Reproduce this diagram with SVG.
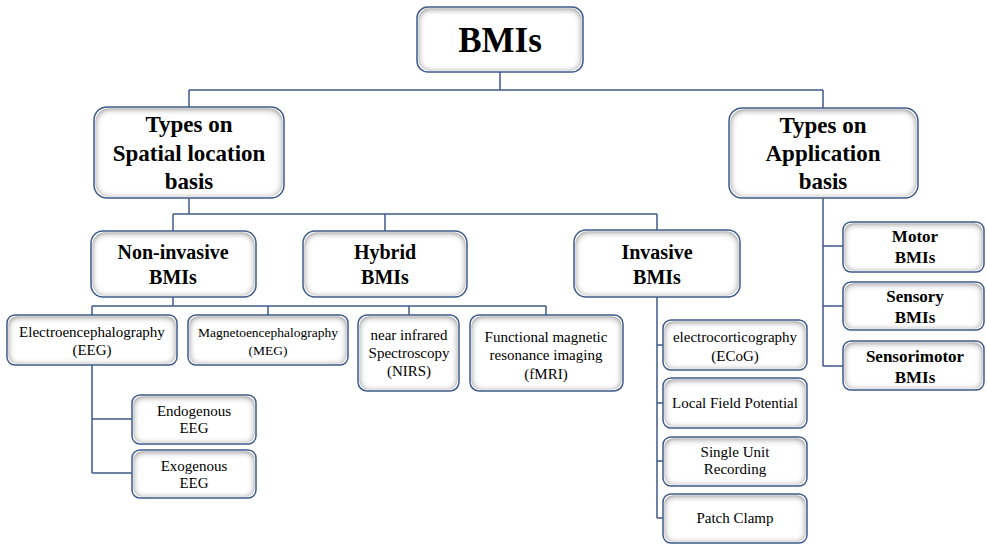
<svg xmlns="http://www.w3.org/2000/svg" width="987" height="546" viewBox="0 0 987 546">
<defs>
<filter id="inner" x="-0.15" y="-0.3" width="1.3" height="1.6">
  <feMorphology in="SourceAlpha" operator="erode" radius="1.5" result="inside"/>
  <feFlood flood-color="#5e5e5e" result="c"/>
  <feComposite in="c" in2="inside" operator="out" result="outside"/>
  <feGaussianBlur in="outside" stdDeviation="3"/>
  <feOffset dy="1.2" result="b"/>
  <feComposite in="b" in2="inside" operator="in" result="shadow"/>
  <feMerge><feMergeNode in="SourceGraphic"/><feMergeNode in="shadow"/></feMerge>
</filter>
</defs>
<style>
.box{fill:#ffffff;stroke:#3f5a8a;stroke-width:1.5;filter:url(#inner)}
.con{fill:none;stroke:#3f5a8a;stroke-width:1.5}
text{font-family:'Liberation Serif','DejaVu Serif',serif;fill:#000;text-anchor:middle}
.b{font-weight:bold}
.t0{font-size:35px}
.t1{font-size:23px}
.t2{font-size:20px}
.t3{font-size:17px}
.t4{font-size:15px}
.t5{font-size:13.5px}
</style>
<rect width="987" height="546" fill="#ffffff"/>
<g id="connectors">
  <path class="con" d="M500 72V90M189 90H823M189 90V107M823 90V108"/>
  <path class="con" d="M189 198V214M173 214H657M173 214V231M385 214V231M657 214V230"/>
  <path class="con" d="M173 297V306M92 306H546M92 306V315M268 306V315M409 306V315M546 306V315"/>
  <path class="con" d="M92 365V473M92 419H132M92 473H132"/>
  <path class="con" d="M657 297V518M657 345H663M657 403H663M657 461H663M657 518H663"/>
  <path class="con" d="M823 198V366M823 246H843M823 306H843M823 366H843"/>
</g>
<g font-family="Liberation Serif, DejaVu Serif, serif">
<g id="bmis">
  <rect class="box" x="417" y="7" width="166" height="65" rx="11"/>
  <text class="b t0" x="500" y="52">BMIs</text>
</g>
<g id="spatial">
  <rect class="box" x="94" y="107" width="190" height="91" rx="13"/>
  <text class="b t1" x="189" y="132">Types on</text>
  <text class="b t1" x="189" y="161">Spatial location</text>
  <text class="b t1" x="189" y="189">basis</text>
</g>
<g id="application">
  <rect class="box" x="729" y="108" width="189" height="90" rx="13"/>
  <text class="b t1" x="823" y="133">Types on</text>
  <text class="b t1" x="823" y="161">Application</text>
  <text class="b t1" x="823" y="189">basis</text>
</g>
<g id="noninvasive">
  <rect class="box" x="91" y="231" width="165" height="66" rx="12"/>
  <text class="b t2" x="173" y="259">Non-invasive</text>
  <text class="b t2" x="173" y="284">BMIs</text>
</g>
<g id="hybrid">
  <rect class="box" x="303" y="231" width="164" height="66" rx="12"/>
  <text class="b t2" x="385" y="259">Hybrid</text>
  <text class="b t2" x="385" y="284">BMIs</text>
</g>
<g id="invasive">
  <rect class="box" x="574" y="230" width="166" height="67" rx="12"/>
  <text class="b t2" x="657" y="259">Invasive</text>
  <text class="b t2" x="657" y="284">BMIs</text>
</g>
<g id="motor">
  <rect class="box" x="843" y="222" width="141" height="50" rx="8"/>
  <text class="b t3" x="915" y="242">Motor</text>
  <text class="b t3" x="915" y="263">BMIs</text>
</g>
<g id="sensory">
  <rect class="box" x="843" y="282" width="141" height="48" rx="8"/>
  <text class="b t3" x="915" y="302">Sensory</text>
  <text class="b t3" x="915" y="323">BMIs</text>
</g>
<g id="sensorimotor">
  <rect class="box" x="843" y="341" width="141" height="49" rx="8"/>
  <text class="b t3" x="915" y="362">Sensorimotor</text>
  <text class="b t3" x="915" y="383">BMIs</text>
</g>
<g id="eeg">
  <rect class="box" x="7" y="315" width="170" height="50" rx="8"/>
  <text class="t4" x="92" y="337">Electroencephalography</text>
  <text class="t4" x="92" y="355">(EEG)</text>
</g>
<g id="meg">
  <rect class="box" x="188" y="315" width="160" height="50" rx="8"/>
  <text class="t5" x="268" y="337">Magnetoencephalography</text>
  <text class="t5" x="268" y="355">(MEG)</text>
</g>
<g id="nirs">
  <rect class="box" x="358" y="315" width="101" height="76" rx="9"/>
  <text class="t4" x="409" y="340">near infrared</text>
  <text class="t4" x="409" y="358">Spectroscopy</text>
  <text class="t4" x="409" y="376">(NIRS)</text>
</g>
<g id="fmri">
  <rect class="box" x="470" y="315" width="153" height="76" rx="9"/>
  <text class="t4" x="546" y="342">Functional magnetic</text>
  <text class="t4" x="546" y="360">resonance imaging</text>
  <text class="t4" x="546" y="379">(fMRI)</text>
</g>
<g id="endogenous">
  <rect class="box" x="132" y="395" width="124" height="49" rx="8"/>
  <text class="t4" x="194" y="416">Endogenous</text>
  <text class="t4" x="194" y="433">EEG</text>
</g>
<g id="exogenous">
  <rect class="box" x="132" y="450" width="124" height="48" rx="8"/>
  <text class="t4" x="194" y="471">Exogenous</text>
  <text class="t4" x="194" y="488">EEG</text>
</g>
<g id="ecog">
  <rect class="box" x="663" y="320" width="144" height="50" rx="8"/>
  <text class="t4" x="735" y="342">electrocorticography</text>
  <text class="t4" x="735" y="361">(ECoG)</text>
</g>
<g id="lfp">
  <rect class="box" x="663" y="378" width="144" height="50" rx="8"/>
  <text class="t4" x="735" y="408">Local Field Potential</text>
</g>
<g id="sur">
  <rect class="box" x="663" y="437" width="144" height="49" rx="8"/>
  <text class="t4" x="735" y="457">Single Unit</text>
  <text class="t4" x="735" y="474">Recording</text>
</g>
<g id="patch">
  <rect class="box" x="663" y="494" width="144" height="49" rx="8"/>
  <text class="t4" x="735" y="523">Patch Clamp</text>
</g>
</g>
</svg>
